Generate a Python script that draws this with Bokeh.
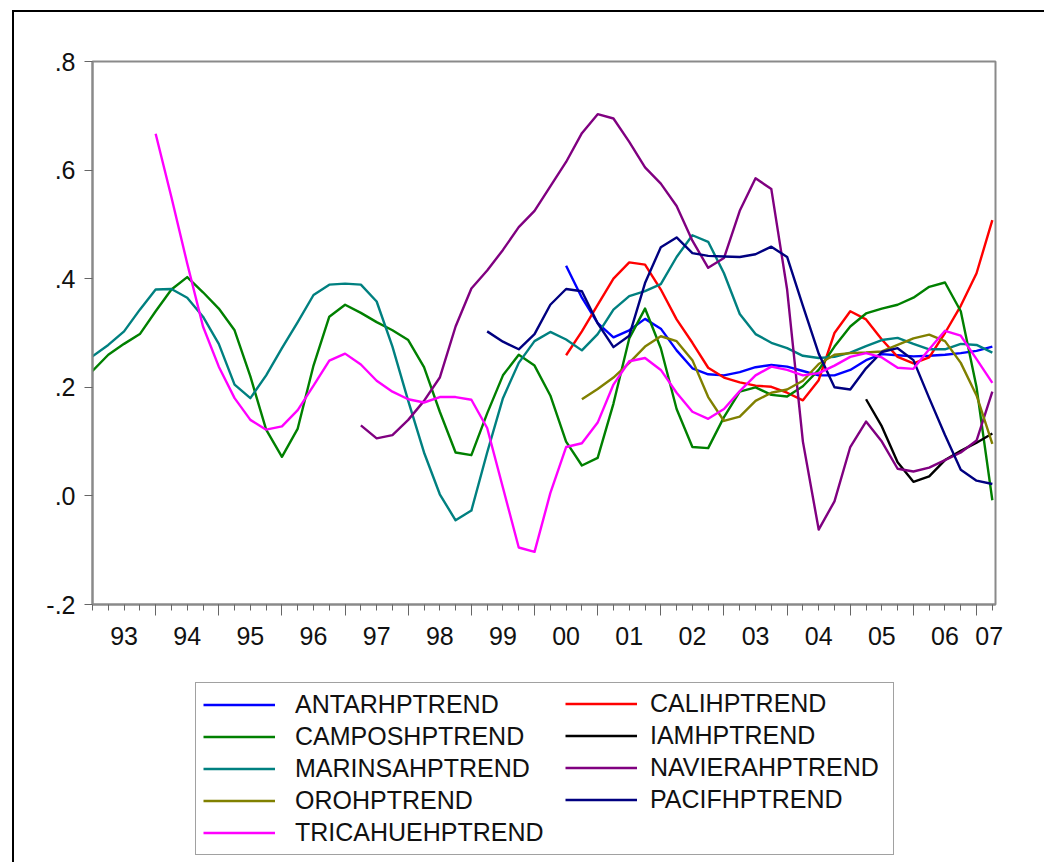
from bokeh.plotting import figure
from bokeh.models import Range1d, LinearAxis, FixedTicker, Legend, LegendItem
from bokeh.layouts import column
from bokeh.embed import file_html
from bokeh.resources import INLINE

# ---------------- data (quarterly HP trends) ----------------
marinsa_start = "1993Q1"
marinsa = [0.257, 0.278, 0.303, 0.343,
           0.380, 0.381, 0.365, 0.330,
           0.280, 0.205, 0.180, 0.222,
           0.272, 0.320, 0.370, 0.389,
           0.391, 0.389, 0.358, 0.275,
           0.175, 0.080, 0.003, -0.045,
           -0.027, 0.080, 0.180, 0.245,
           0.285, 0.302, 0.288, 0.268,
           0.298, 0.343, 0.368, 0.377,
           0.390, 0.440, 0.480, 0.468,
           0.410, 0.335, 0.298, 0.282,
           0.272, 0.258, 0.254, 0.256,
           0.264, 0.276, 0.287, 0.291,
           0.280, 0.270, 0.270, 0.280,
           0.278, 0.264]

campos_start = "1993Q1"
campos = [0.230, 0.260, 0.280, 0.298,
          0.340, 0.380, 0.403, 0.375,
          0.345, 0.305, 0.220, 0.122,
          0.072, 0.124, 0.240, 0.330,
          0.352, 0.337, 0.320, 0.305,
          0.287, 0.237, 0.155, 0.080,
          0.075, 0.152, 0.222, 0.260,
          0.240, 0.185, 0.100, 0.056,
          0.070, 0.170, 0.290, 0.345,
          0.272, 0.160, 0.090, 0.088,
          0.145, 0.192, 0.200, 0.186,
          0.183, 0.202, 0.232, 0.275,
          0.312, 0.336, 0.345, 0.352,
          0.365, 0.385, 0.393, 0.340,
          0.200, -0.008]

tricahue_start = "1994Q1"
tricahue = [0.667, 0.550, 0.428, 0.312,
            0.238, 0.180, 0.140, 0.122,
            0.128, 0.158, 0.203, 0.249,
            0.262, 0.242, 0.212, 0.192,
            0.178, 0.172, 0.182, 0.182,
            0.177, 0.125, 0.015, -0.095,
            -0.103, 0.005, 0.090, 0.097,
            0.135, 0.205, 0.248, 0.254,
            0.232, 0.190, 0.155, 0.142,
            0.160, 0.193, 0.222, 0.238,
            0.232, 0.222, 0.226, 0.240,
            0.256, 0.263, 0.255, 0.236,
            0.234, 0.270, 0.304, 0.295,
            0.252, 0.208]

naviera_start = "1997Q2"
naviera = [0.130, 0.106, 0.112,
           0.140, 0.175, 0.218, 0.312,
           0.382, 0.415, 0.453, 0.495,
           0.525, 0.570, 0.615, 0.668,
           0.703, 0.695, 0.652, 0.605,
           0.575, 0.534, 0.470, 0.420,
           0.438, 0.525, 0.585, 0.565,
           0.380, 0.100, -0.062, -0.010,
           0.090, 0.137, 0.100, 0.050,
           0.045, 0.052, 0.066, 0.080,
           0.102, 0.192]

pacif_start = "1999Q2"
pacif = [0.303, 0.284, 0.270,
         0.298, 0.352, 0.381, 0.377,
         0.318, 0.274, 0.295, 0.392,
         0.458, 0.476, 0.447, 0.442,
         0.441, 0.440, 0.445, 0.459,
         0.440, 0.350, 0.262, 0.200,
         0.196, 0.235, 0.265, 0.272,
         0.250, 0.180, 0.112, 0.048,
         0.028, 0.022]

antar_start = "2000Q3"
antar = [0.424, 0.365,
         0.318, 0.292, 0.305, 0.326,
         0.308, 0.268, 0.235, 0.224,
         0.222, 0.228, 0.237, 0.241,
         0.238, 0.230, 0.222, 0.222,
         0.232, 0.250, 0.261, 0.259,
         0.257, 0.258, 0.260, 0.263,
         0.267, 0.275]

cali_start = "2000Q3"
cali = [0.259, 0.303,
        0.352, 0.400, 0.430, 0.426,
        0.380, 0.325, 0.282, 0.236,
        0.218, 0.209, 0.203, 0.201,
        0.190, 0.176, 0.213, 0.300,
        0.340, 0.325, 0.288, 0.256,
        0.244, 0.255, 0.300, 0.350,
        0.410, 0.508]

oro_start = "2000Q4"
oro = [0.178,
       0.197, 0.218, 0.245, 0.275,
       0.294, 0.285, 0.250, 0.182,
       0.138, 0.146, 0.175, 0.190,
       0.196, 0.212, 0.243, 0.260,
       0.263, 0.264, 0.266, 0.278,
       0.290, 0.297, 0.285, 0.245,
       0.185, 0.096]

iam_start = "2005Q2"
iam = [0.178, 0.128, 0.062, 0.026, 0.036, 0.066, 0.083, 0.098, 0.115]

series_names = ["ANTARHPTREND", "CALIHPTREND", "CAMPOSHPTREND", "IAMHPTREND",
                "MARINSAHPTREND", "NAVIERAHPTREND", "OROHPTREND", "PACIFHPTREND",
                "TRICAHUEHPTREND"]
series_values = [antar, cali, campos, iam, marinsa, naviera, oro, pacif, tricahue]
series_starts = [antar_start, cali_start, campos_start, iam_start, marinsa_start,
                 naviera_start, oro_start, pacif_start, tricahue_start]
series_colors = ["#0000FF", "#FF0000", "#008000", "#000000", "#008080",
                 "#800080", "#808000", "#000080", "#FF00FF"]

year_ticks = list(range(1994, 2008))
year_labels = ["93", "94", "95", "96", "97", "98", "99", "00", "01", "02",
               "03", "04", "05", "06", "07"]
year_label_pos = [1993.5, 1994.5, 1995.5, 1996.5, 1997.5, 1998.5, 1999.5, 2000.5,
                  2001.5, 2002.5, 2003.5, 2004.5, 2005.5, 2006.5, 2007.2]
y_ticks = [-0.2, 0.0, 0.2, 0.4, 0.6, 0.8]
y_tick_labels = ["-.2", ".0", ".2", ".4", ".6", ".8"]


def period_x(start, n):
    y, q = start.split("Q")
    x0 = int(y) + (int(q) - 1) / 4.0
    return [x0 + i / 4.0 for i in range(n)]


FONT = "Liberation Sans"
W = 1032
H1 = 648   # chart canvas: page y 12 .. 660
H2 = 204   # legend canvas: page y 660 .. 864
OX, OY = 14, 12
FRAME_L, FRAME_T, FRAME_R, FRAME_B = 92, 61, 995, 604

p = figure(width=W, height=H1, x_range=Range1d(1993.0, 2007.30), y_range=Range1d(-0.2, 0.8),
           output_backend="svg", toolbar_location=None, x_axis_type=None, y_axis_type=None,
           min_border_left=FRAME_L - OX, min_border_top=FRAME_T - OY,
           min_border_right=W + OX - FRAME_R, min_border_bottom=H1 + OY - FRAME_B)
p.styles = {"margin-left": "12px", "margin-top": "10px",
            "border-left": "2px solid #000000", "border-top": "2px solid #000000"}
p.xgrid.grid_line_color = None
p.ygrid.grid_line_color = None
p.outline_line_color = "#8a8a8a"
p.outline_line_width = 2
p.background_fill_color = "white"
p.border_fill_color = "white"

yaxis = LinearAxis(ticker=FixedTicker(ticks=y_ticks),
                   major_label_overrides=dict(zip(y_ticks, y_tick_labels)))
yaxis.axis_line_color = "#8a8a8a"
yaxis.axis_line_width = 2
yaxis.major_tick_line_color = "#666666"
yaxis.major_tick_out = 8
yaxis.major_tick_in = 0
yaxis.minor_tick_line_color = None
yaxis.major_label_standoff = 9
yaxis.major_label_text_font = FONT
yaxis.major_label_text_font_size = "25px"
yaxis.major_label_text_color = "#111111"
p.add_layout(yaxis, "left")

quarter_ticks = period_x("1993Q1", 58)
xaxis_ticks = LinearAxis(ticker=FixedTicker(ticks=year_ticks, minor_ticks=quarter_ticks))
xaxis_ticks.axis_line_color = "#8a8a8a"
xaxis_ticks.axis_line_width = 2
xaxis_ticks.major_tick_line_color = "#666666"
xaxis_ticks.minor_tick_line_color = "#666666"
xaxis_ticks.major_tick_out = 11
xaxis_ticks.major_tick_in = 0
xaxis_ticks.minor_tick_out = 6
xaxis_ticks.minor_tick_in = 0
xaxis_ticks.major_label_text_color = None
xaxis_ticks.major_label_text_font_size = "1px"
xaxis_ticks.major_label_standoff = 0
p.add_layout(xaxis_ticks, "below")

xaxis_labels = LinearAxis(ticker=FixedTicker(ticks=year_label_pos),
                          major_label_overrides=dict(zip(year_label_pos, year_labels)))
xaxis_labels.axis_line_color = None
xaxis_labels.major_tick_line_color = None
xaxis_labels.minor_tick_line_color = None
xaxis_labels.major_tick_out = 0
xaxis_labels.major_tick_in = 0
xaxis_labels.major_label_standoff = 11
xaxis_labels.major_label_text_font = FONT
xaxis_labels.major_label_text_font_size = "25px"
xaxis_labels.major_label_text_color = "#111111"
p.add_layout(xaxis_labels, "below")

for name, vals, start, col in zip(series_names, series_values, series_starts, series_colors):
    p.line(period_x(start, len(vals)), vals, line_color=col, line_width=2.4,
           line_join="round")

# ---------------- legend panel ----------------
# (frames in a column are aligned, so this panel's frame starts at x = FRAME_L)
p2 = figure(width=W, height=H2, x_range=Range1d(0, 1), y_range=Range1d(0, 1),
            output_backend="svg", toolbar_location=None, x_axis_type=None, y_axis_type=None,
            min_border_left=0, min_border_right=0, min_border_top=0, min_border_bottom=0)
p2.styles = {"margin-left": "12px", "border-left": "2px solid #000000"}
p2.xgrid.grid_line_color = None
p2.ygrid.grid_line_color = None
p2.outline_line_color = None
p2.background_fill_color = "white"
p2.border_fill_color = "white"

# legend-key renderers: same series, lying outside this panel's (0..1) view
legend_renderers = {}
for name, vals, start, col in zip(series_names, series_values, series_starts, series_colors):
    legend_renderers[name] = p2.line(period_x(start, len(vals)), vals, line_color=col,
                                     line_width=2.4)

col1 = ["ANTARHPTREND", "CAMPOSHPTREND", "MARINSAHPTREND", "OROHPTREND", "TRICAHUEHPTREND"]
col2 = ["CALIHPTREND", "IAMHPTREND", "NAVIERAHPTREND", "PACIFHPTREND"]

common = dict(orientation="vertical", padding=7, spacing=3, glyph_width=72, glyph_height=29,
              label_height=29, label_text_font=FONT, label_text_font_size="25px",
              label_text_color="#111111", margin=0)
leg1 = Legend(items=[LegendItem(label=n, renderers=[legend_renderers[n]]) for n in col1],
              location=(103, 7), label_width=591, label_standoff=20,
              border_line_color="#444444", border_line_width=1.5,
              background_fill_color="white", background_fill_alpha=1.0, **common)
leg2 = Legend(items=[LegendItem(label=n, renderers=[legend_renderers[n]]) for n in col2],
              location=(473, 48), label_standoff=13,
              border_line_color=None, background_fill_alpha=0.0, **common)
p2.add_layout(leg1)
p2.add_layout(leg2)

layout = column(p, p2, spacing=0)
open("out.html", "w").write(file_html(layout, INLINE))
